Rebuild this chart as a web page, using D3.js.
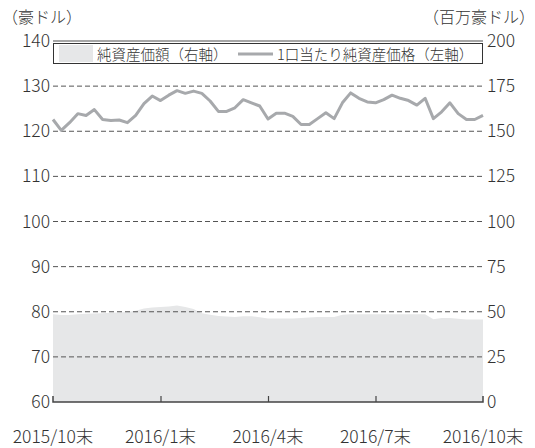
<!DOCTYPE html>
<html>
<head>
<meta charset="utf-8">
<script src="https://cdn.jsdelivr.net/npm/d3@7"></script>
<style>
  body { margin: 0; background: #fff; }
  svg { font-family: "Noto Sans CJK JP", "Noto Sans", sans-serif; font-weight: 300; }
</style>
</head>
<body>
<svg id="chart"></svg>
<script>
// weekly points, 2015/10末 .. 2016/10末
const navPerUnit = [122.6, 120.2, 121.9, 123.9, 123.5, 124.8, 122.6, 122.4, 122.5, 121.9,
  123.5, 126.1, 127.8, 126.8, 128.0, 129.0, 128.4, 128.9, 128.4, 126.7,
  124.4, 124.4, 125.2, 127.0, 126.3, 125.6, 122.7, 124.0, 124.0, 123.3,
  121.5, 121.5, 122.8, 124.1, 122.8, 126.3, 128.5, 127.3, 126.5, 126.3,
  127.0, 128.0, 127.3, 126.8, 125.8, 127.3, 122.8, 124.3, 126.3, 123.9,
  122.6, 122.6, 123.5];
const netAssets = [48.6, 48.2, 48.2, 48.6, 48.9, 49.0, 49.2, 49.4, 49.6, 49.8,
  50.5, 51.8, 52.4, 52.7, 52.9, 53.4, 52.6, 51.5, 49.2, 48.3,
  47.7, 47.3, 47.1, 47.5, 47.5, 46.9, 46.3, 46.2, 46.2, 46.2,
  46.5, 46.8, 47.1, 47.1, 47.1, 48.4, 48.6, 48.6, 48.6, 48.6,
  48.6, 48.6, 48.6, 48.6, 48.6, 48.6, 45.9, 46.6, 46.6, 46.1,
  45.7, 45.7, 45.7];
const xTickIdx = [0, 13, 26, 39, 52];
const xTickLabels = ["2015/10末", "2016/1末", "2016/4末", "2016/7末", "2016/10末"];
const leftTicks = [60, 70, 80, 90, 100, 110, 120, 130, 140];
const rightTicks = [0, 25, 50, 75, 100, 125, 150, 175, 200];

const width = 535, height = 448;
const margin = {top: 41, right: 52, bottom: 46, left: 53};
const svg = d3.select('#chart').attr('width', width).attr('height', height);

const x = d3.scaleLinear().domain([0, navPerUnit.length - 1]).range([margin.left, width - margin.right]);
const yL = d3.scaleLinear().domain([60, 140]).range([height - margin.bottom, margin.top]);
const yR = d3.scaleLinear().domain([0, 200]).range([height - margin.bottom, margin.top]);

const textColor = '#333';

// area (right axis)
svg.append('path')
  .datum(netAssets)
  .attr('fill', '#e6e7e8')
  .attr('d', d3.area().x((d, i) => x(i)).y0(yR(0)).y1(d => yR(d)));

// grid
svg.append('g').selectAll('line')
  .data(leftTicks.filter(d => d > 60 && d < 140))
  .join('line')
  .attr('x1', x.range()[0]).attr('x2', x.range()[1])
  .attr('y1', d => yL(d)).attr('y2', d => yL(d))
  .attr('stroke', '#555').attr('stroke-width', 1)
  .attr('stroke-dasharray', '5,3');

svg.append('line')
  .attr('x1', x.range()[0]).attr('x2', x.range()[1])
  .attr('y1', yL(140)).attr('y2', yL(140))
  .attr('stroke', '#888').attr('stroke-width', 1.5);

// line (left axis)
svg.append('path')
  .datum(navPerUnit)
  .attr('fill', 'none')
  .attr('stroke', '#a7a9ac')
  .attr('stroke-width', 3)
  .attr('stroke-linejoin', 'round')
  .attr('d', d3.line().x((d, i) => x(i)).y(d => yL(d)));

// axes
const xAxis = d3.axisBottom(x).tickValues(xTickIdx.slice(1, 4)).tickSize(-6).tickFormat('');
svg.append('g')
  .attr('transform', 'translate(0,' + yL(60) + ')')
  .call(xAxis)
  .call(g => g.select('.domain').remove())
  .call(g => g.selectAll('line').attr('stroke', '#444').attr('stroke-width', 1.2));

svg.append('path')
  .attr('d', 'M' + x(0) + ',' + (yL(60) - 6) + 'V' + yL(60) + 'H' + x(52) + 'V' + (yL(60) - 6))
  .attr('fill', 'none').attr('stroke', '#444').attr('stroke-width', 1.5);

svg.append('g').selectAll('text')
  .data(xTickIdx)
  .join('text')
  .attr('x', d => x(d))
  .attr('y', 443)
  .attr('text-anchor', 'middle')
  .attr('font-size', 17.5)
  .attr('fill', textColor)
  .text((d, i) => xTickLabels[i]);

svg.append('g').selectAll('text')
  .data(leftTicks)
  .join('text')
  .attr('x', margin.left - 3)
  .attr('y', d => yL(d) + 6)
  .attr('text-anchor', 'end')
  .attr('font-size', 17.5)
  .attr('fill', textColor)
  .text(d => d);

svg.append('g').selectAll('text')
  .data(rightTicks)
  .join('text')
  .attr('x', width - margin.right + 4)
  .attr('y', d => yR(d) + 6)
  .attr('text-anchor', 'start')
  .attr('font-size', 17.5)
  .attr('fill', textColor)
  .text(d => d);

svg.append('text').attr('x', 2).attr('y', 23).attr('font-size', 16).attr('fill', textColor).text('（豪ドル）');
svg.append('text').attr('x', 535).attr('y', 23).attr('text-anchor', 'end').attr('font-size', 16).attr('fill', textColor).text('（百万豪ドル）');

// legend
const lg = svg.append('g');
lg.append('rect')
  .attr('x', x(0) + 0.5).attr('y', 43.5)
  .attr('width', x(52) - x(0) - 1).attr('height', 20)
  .attr('fill', '#fff').attr('stroke', '#333').attr('stroke-width', 1);
lg.append('rect')
  .attr('x', 59).attr('y', 45).attr('width', 34).attr('height', 17)
  .attr('fill', '#e6e7e8');
lg.append('text').attr('x', 97).attr('y', 59.5).attr('font-size', 14.5).attr('fill', textColor).text('純資産価額（右軸）');
lg.append('line')
  .attr('x1', 238).attr('x2', 273).attr('y1', 54).attr('y2', 54)
  .attr('stroke', '#a7a9ac').attr('stroke-width', 3);
lg.append('text').attr('x', 277).attr('y', 59.5).attr('font-size', 14.5).attr('fill', textColor).text('1口当たり純資産価格（左軸）');
</script>
</body>
</html>
